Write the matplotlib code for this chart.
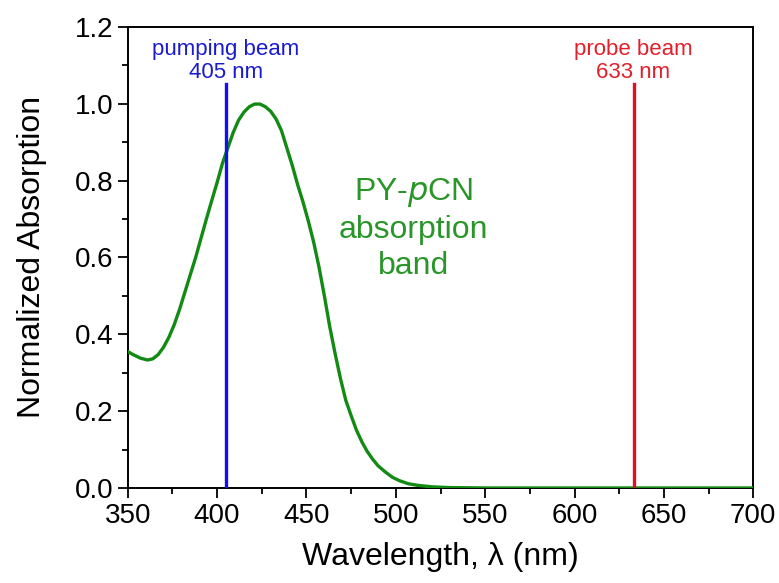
import matplotlib
matplotlib.use("Agg")
import matplotlib.pyplot as plt
from matplotlib.ticker import MultipleLocator

plt.rcParams["font.family"] = ["Liberation Sans", "DejaVu Sans"]

# absorption spectrum
wavelength = [350, 353, 357, 361, 364, 367, 370, 373, 376, 379, 382, 385, 388, 391,
              394, 397, 400, 403, 406, 409, 412, 415, 418, 421, 424, 427, 430, 433,
              436, 439, 442, 445, 448, 451, 454, 457, 460, 463, 466, 469, 472, 475,
              478, 481, 484, 487, 490, 494, 498, 502, 507, 512, 520, 530, 550, 600,
              650, 700]
absorption = [0.355, 0.347, 0.338, 0.333, 0.336, 0.347, 0.366, 0.392, 0.425, 0.465,
              0.51, 0.555, 0.60, 0.65, 0.70, 0.748, 0.795, 0.845, 0.885, 0.925,
              0.957, 0.978, 0.992, 0.999, 0.999, 0.992, 0.98, 0.96, 0.93, 0.885,
              0.84, 0.79, 0.745, 0.695, 0.64, 0.575, 0.50, 0.42, 0.35, 0.285, 0.228,
              0.188, 0.15, 0.12, 0.095, 0.075, 0.058, 0.042, 0.028, 0.019, 0.011,
              0.007, 0.003, 0.001, 0.0, 0.0, 0.0, 0.0]

pump_nm = 405
probe_nm = 633
beam_top = 1.05

fig = plt.figure(figsize=(7.79, 5.83), dpi=100)
ax = fig.add_axes([0.164, 0.163, 0.803, 0.791])

ax.plot(wavelength, absorption, color="#138a13", lw=2.4, zorder=3)
ax.plot([pump_nm, pump_nm], [0, beam_top], color="#1010f0", lw=2.4, zorder=4)
ax.plot([probe_nm, probe_nm], [0, beam_top], color="#e01020", lw=2.4, zorder=4)

ax.text(pump_nm, 1.055, "pumping beam\n405 nm", color="#1a1ad0", fontsize=16,
        ha="center", va="bottom", linespacing=1.1)
ax.text(probe_nm, 1.055, "probe beam\n633 nm", color="#e0202a", fontsize=16,
        ha="center", va="bottom", linespacing=1.1)
ax.text(510, 0.675, "PY-$\\it{p}$CN\nabsorption\nband", color="#2a962a", fontsize=23,
        ha="center", va="center", linespacing=1.27)

ax.set_xlim(350, 700)
ax.set_ylim(0, 1.2)
ax.xaxis.set_major_locator(MultipleLocator(50))
ax.xaxis.set_minor_locator(MultipleLocator(25))
ax.yaxis.set_major_locator(MultipleLocator(0.2))
ax.yaxis.set_minor_locator(MultipleLocator(0.1))
ax.yaxis.set_major_formatter(lambda v, p: f"{v:.1f}")

ax.tick_params(which="major", direction="out", length=7, width=1.3, labelsize=20)
ax.tick_params(which="minor", direction="out", length=4, width=1.3)
for s in ax.spines.values():
    s.set_linewidth(1.4)

ax.set_xlabel("Wavelength, λ (nm)", fontsize=23, labelpad=10)
ax.set_ylabel("Normalized Absorption", fontsize=23, labelpad=20)

fig.savefig("out.png", dpi=100)
